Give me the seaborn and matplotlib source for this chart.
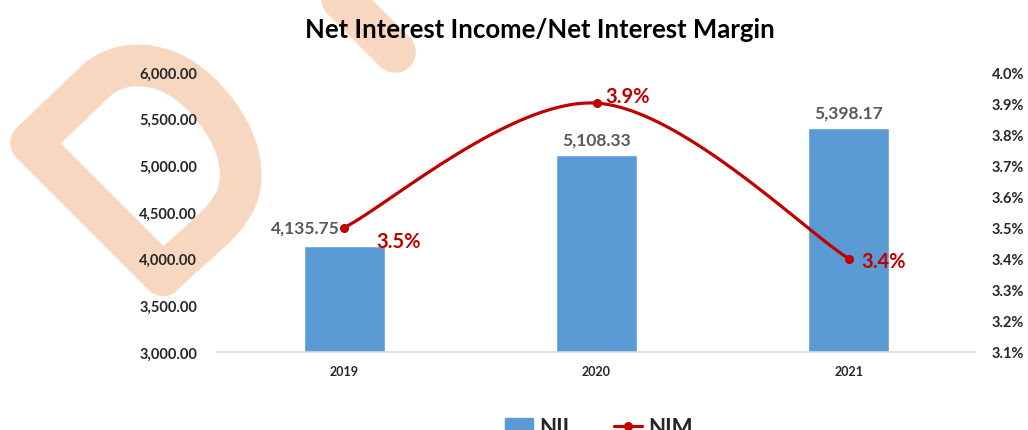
import numpy as np
import pandas as pd
import matplotlib
matplotlib.use('Agg')
import matplotlib.pyplot as plt
import seaborn as sns
from matplotlib.path import Path
from matplotlib.patches import PathPatch, Patch
from matplotlib.lines import Line2D
from matplotlib.ticker import FuncFormatter

years = ['2019', '2020', '2021']
nii = [4135.75, 5108.33, 5398.17]
nim = [3.5, 3.9, 3.4]

BAR = '#5B9BD5'
RED = '#C00000'
GREY = '#595959'
PEACH = '#F8D7C0'

sns.set_theme(style='white')
plt.rcParams['font.family'] = ['Lato', 'DejaVu Sans']
plt.rcParams['font.weight'] = 'bold'

W, H = 1028, 431
fig = plt.figure(figsize=(W / 100, H / 100), dpi=100)


def px(pts):
    return [(x / W, 1 - y / H) for x, y in pts]


# watermark behind the chart
M, L, C = Path.MOVETO, Path.LINETO, Path.CURVE4
loop = Path(px([(163, 276), (31, 144), (98, 80),
                (122, 60), (165, 60), (200, 94),
                (238, 132), (248, 172), (236, 200),
                (224, 226), (200, 240), (163, 276)]),
            [M, L, L, C, C, C, C, C, C, C, C, C])
stroke = Path(px([(322, -20), (395, 53)]), [M, L])
for p in (loop, stroke):
    fig.add_artist(PathPatch(p, transform=fig.transFigure, fill=False,
                             edgecolor=PEACH, linewidth=30,
                             capstyle='round', joinstyle='round', zorder=-1))

ax = fig.add_axes([218 / W, 1 - 353 / H, 757 / W, 280 / H])
ax.patch.set_visible(False)

df = pd.DataFrame({'year': years, 'nii': nii})
sns.barplot(data=df, x='year', y='nii', color=BAR, width=0.32,
            saturation=1, ax=ax)
ax.set_xlim(-0.5, 2.5)
ax.set_ylim(3000, 6000)
ax.set_yticks(np.arange(3000, 6001, 500))
ax.yaxis.set_major_formatter(FuncFormatter(lambda v, p: f'{v:,.2f}'))
ax.set_xlabel('')
ax.set_ylabel('')
for s in ['top', 'right', 'left']:
    ax.spines[s].set_visible(False)
ax.spines['bottom'].set_color('#D9D9D9')
ax.spines['bottom'].set_linewidth(1.2)
ax.tick_params(axis='y', length=0, pad=15, labelsize=10.5, labelcolor='#262626')
ax.tick_params(axis='x', length=0, pad=9, labelsize=9, labelcolor='#262626')

ax2 = ax.twinx()
ax2.patch.set_visible(False)
ax2.set_ylim(3.1, 4.0)
ax2.set_yticks(np.arange(3.1, 4.01, 0.1))
ax2.yaxis.set_major_formatter(FuncFormatter(lambda v, p: f'{v:.1f}%'))
for s in ax2.spines.values():
    s.set_visible(False)
ax2.tick_params(axis='y', length=0, pad=12, labelsize=10.5, labelcolor='#262626')
ax2.grid(False)

# smoothed line (Catmull-Rom as cubic Bezier through the points)
pts = np.column_stack([np.arange(len(nim)), nim]).astype(float)
ext = np.vstack([pts[0], pts, pts[-1]])
t = np.linspace(0, 1, 60)[:, None]
segs = []
for i in range(len(pts) - 1):
    p0, p1, p2, p3 = ext[i], ext[i + 1], ext[i + 2], ext[i + 3]
    c1 = p1 + (p2 - p0) / 6
    c2 = p2 - (p3 - p1) / 6
    segs.append((1 - t) ** 3 * p1 + 3 * (1 - t) ** 2 * t * c1
                + 3 * (1 - t) * t ** 2 * c2 + t ** 3 * p2)
curve = np.vstack(segs)
ax2.plot(curve[:, 0], curve[:, 1], color=RED, linewidth=2.3, solid_capstyle='round')
ax2.plot(pts[:, 0], pts[:, 1], 'o', color=RED, markersize=5.5)

# value labels
ax2.annotate(f'{nii[0]:,.2f}', (0, nim[0]), xytext=(-3, 0), textcoords='offset points',
             ha='right', va='center', fontsize=12.5, color=GREY, fontweight='bold')
for i in (1, 2):
    ax.annotate(f'{nii[i]:,.2f}', (i, nii[i]), xytext=(0, 11.5),
                textcoords='offset points', ha='center', va='center',
                fontsize=12.5, color=GREY, fontweight='bold')

nim_off = [(23, -10), (6.5, 5), (9, -2)]
for i, v in enumerate(nim):
    ax2.annotate(f'{v:.1f}%', (i, v), xytext=nim_off[i], textcoords='offset points',
                 ha='left', va='center', fontsize=14.5, color=RED, fontweight='bold')

fig.suptitle('Net Interest Income/Net Interest Margin', x=540 / W, y=1 - 30 / H,
             va='center', fontsize=18.5, fontweight='bold', color='black')

handles = [Patch(facecolor=BAR, edgecolor=BAR, label='NII'),
           Line2D([0], [0], color=RED, linewidth=2.3, marker='o', markersize=5.5,
                  label='NIM')]
fig.legend(handles=handles, loc='center', bbox_to_anchor=(599 / W, 1 - 429 / H),
           ncol=2, frameon=False, fontsize=16, handlelength=1.25,
           handleheight=0.9, columnspacing=2.0, handletextpad=0.3)

fig.savefig('out.png', dpi=100)
